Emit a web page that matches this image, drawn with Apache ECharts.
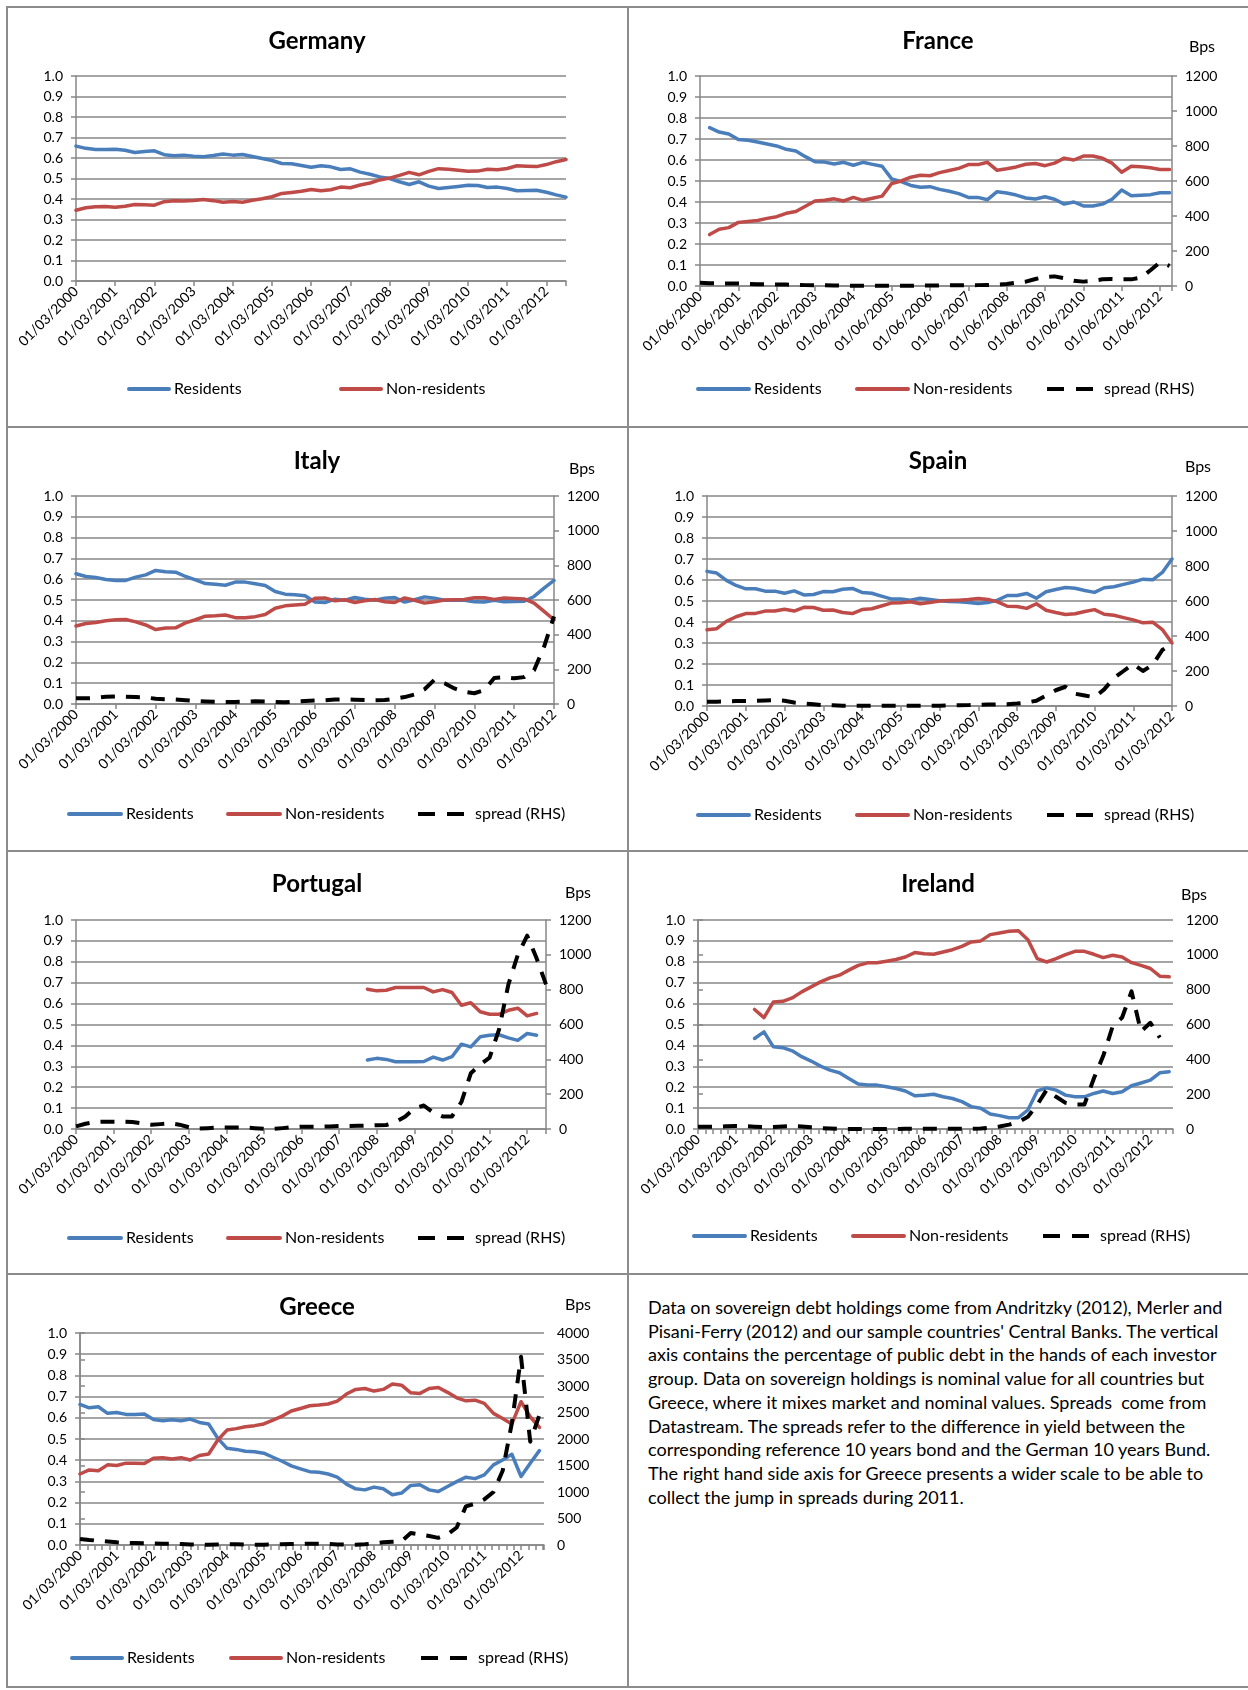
<!DOCTYPE html>
<html><head><meta charset="utf-8">
<script src="https://cdn.jsdelivr.net/npm/echarts@6/dist/echarts.min.js"></script>
<style>
body{margin:0;background:#fff;width:1248px;height:1690px;position:relative;overflow:hidden;font-family:Lato,"Open Sans",sans-serif;color:#000}
.ch{position:absolute}
.hl{position:absolute;background:#8c8c8c;height:2px}
.vl{position:absolute;background:#8c8c8c;width:2px}
.bps{position:absolute;font-size:16px;transform:translate(-50%,-50%);white-space:nowrap}
#note{position:absolute;left:648px;top:1296px;font-size:18px;line-height:23.7px;white-space:nowrap}
</style></head><body>
<div class="hl" style="left:6px;top:6px;width:1242px"></div>
<div class="hl" style="left:6px;top:426px;width:1242px"></div>
<div class="hl" style="left:6px;top:850px;width:1242px"></div>
<div class="hl" style="left:6px;top:1273px;width:1242px"></div>
<div class="hl" style="left:6px;top:1686px;width:1242px"></div>
<div class="vl" style="left:6px;top:6px;height:1682px"></div>
<div class="vl" style="left:627px;top:6px;height:1682px"></div>
<div id="note">Data on sovereign debt holdings come from Andritzky (2012), Merler and<br>Pisani-Ferry (2012) and our sample countries' Central Banks. The vertical<br>axis contains the percentage of public debt in the hands of each investor<br>group. Data on sovereign holdings is nominal value for all countries but<br>Greece, where it mixes market and nominal values. Spreads&nbsp; come from<br>Datastream. The spreads refer to the difference in yield between the<br>corresponding reference 10 years bond and the German 10 years Bund.<br>The right hand side axis for Greece presents a wider scale to be able to<br>collect the jump in spreads during 2011.</div>
<script>
const FONT='Lato, "Open Sans", sans-serif';
const BLUE='#4A7EBB', RED='#BE4B48', SPREADC='#000000', GRIDC='#878787';

function quarterCats(month, year, n){
  const out=[];
  for(let i=0;i<n;i++){
    const m=month+3*i-1;
    const y=year+Math.floor(m/12);
    const mm=(m%12)+1;
    out.push('01/'+(mm<10?'0':'')+mm+'/'+y);
  }
  return out;
}

// ---------- Germany (quarterly from 01/03/2000) ----------
const deCats=quarterCats(3,2000,51);
const deRes=[0.658,0.647,0.642,0.642,0.643,0.638,0.627,0.632,0.635,0.616,0.611,0.614,0.609,0.606,0.612,0.620,0.614,0.617,0.607,0.598,0.588,0.573,0.572,0.563,0.555,0.562,0.557,0.544,0.547,0.531,0.521,0.508,0.500,0.484,0.471,0.484,0.463,0.451,0.456,0.461,0.467,0.466,0.456,0.458,0.451,0.440,0.441,0.443,0.433,0.420,0.409];
const deNon=[0.345,0.357,0.362,0.363,0.360,0.365,0.373,0.372,0.370,0.387,0.392,0.390,0.393,0.398,0.392,0.384,0.388,0.384,0.394,0.401,0.411,0.427,0.432,0.438,0.446,0.440,0.445,0.458,0.455,0.468,0.478,0.493,0.502,0.515,0.530,0.518,0.535,0.548,0.545,0.540,0.535,0.536,0.545,0.543,0.549,0.562,0.560,0.558,0.568,0.582,0.593];

// ---------- France (quarterly from 01/06/2000) ----------
const frCats=quarterCats(6,2000,50);
const frStart=1;
const frRes=[0.754,0.733,0.724,0.698,0.694,0.686,0.676,0.667,0.651,0.643,0.616,0.592,0.590,0.581,0.589,0.575,0.589,0.579,0.570,0.510,0.497,0.479,0.470,0.473,0.460,0.451,0.440,0.422,0.422,0.411,0.449,0.443,0.433,0.419,0.414,0.425,0.413,0.390,0.400,0.381,0.381,0.390,0.413,0.457,0.430,0.432,0.435,0.444,0.444];
const frNon=[0.245,0.270,0.278,0.303,0.307,0.312,0.322,0.330,0.346,0.355,0.380,0.405,0.408,0.415,0.405,0.422,0.408,0.418,0.428,0.488,0.500,0.518,0.527,0.525,0.540,0.550,0.560,0.578,0.578,0.589,0.551,0.558,0.567,0.580,0.583,0.573,0.585,0.609,0.600,0.619,0.619,0.608,0.585,0.542,0.570,0.568,0.563,0.555,0.555];
const frSpread=[18,16,15,15,14,12,10,10,9,8,7,5,4,4,3,2,1,2,2,2,1,1,1,2,3,3,4,4,4,5,6,8,12,18,25,40,52,55,45,30,25,30,38,40,38,38,48,90,135,115];

// ---------- Italy (quarterly from 01/03/2000) ----------
const itCats=quarterCats(3,2000,49);
const itRes=[0.626,0.613,0.608,0.599,0.594,0.594,0.610,0.621,0.642,0.636,0.634,0.613,0.597,0.579,0.576,0.571,0.586,0.586,0.578,0.570,0.541,0.528,0.525,0.520,0.490,0.488,0.504,0.499,0.512,0.504,0.499,0.509,0.512,0.490,0.501,0.515,0.509,0.499,0.499,0.499,0.491,0.490,0.499,0.491,0.493,0.494,0.517,0.557,0.594];
const itNon=[0.375,0.387,0.392,0.400,0.405,0.406,0.395,0.380,0.358,0.365,0.366,0.390,0.405,0.422,0.424,0.428,0.415,0.415,0.420,0.430,0.460,0.472,0.476,0.480,0.508,0.510,0.496,0.501,0.488,0.496,0.502,0.492,0.488,0.510,0.499,0.485,0.492,0.500,0.501,0.502,0.511,0.511,0.503,0.510,0.507,0.505,0.485,0.445,0.405];
const itSpread=[33,33,35,42,44,42,40,38,30,27,26,22,18,15,13,12,12,13,16,15,12,10,14,18,21,22,26,27,25,23,22,23,30,40,55,85,140,120,90,70,62,80,150,155,148,155,195,330,505];

// ---------- Spain (quarterly from 01/03/2000) ----------
const esCats=quarterCats(3,2000,49);
const esRes=[0.641,0.633,0.598,0.574,0.558,0.558,0.547,0.547,0.537,0.548,0.529,0.531,0.545,0.544,0.556,0.560,0.541,0.537,0.523,0.510,0.509,0.504,0.513,0.507,0.501,0.498,0.496,0.493,0.488,0.493,0.504,0.526,0.526,0.536,0.513,0.544,0.555,0.564,0.561,0.550,0.541,0.563,0.568,0.579,0.590,0.604,0.601,0.636,0.700];
const esNon=[0.363,0.368,0.403,0.425,0.440,0.441,0.452,0.452,0.461,0.452,0.470,0.469,0.456,0.457,0.445,0.440,0.459,0.463,0.476,0.490,0.492,0.496,0.487,0.493,0.500,0.502,0.504,0.507,0.512,0.507,0.496,0.475,0.474,0.465,0.487,0.456,0.445,0.436,0.439,0.450,0.459,0.437,0.432,0.421,0.410,0.396,0.399,0.364,0.300];
const esSpread=[25,25,26,28,29,30,32,34,30,20,15,10,5,4,2,1,1,1,1,1,1,1,1,2,2,3,4,5,6,8,9,10,14,20,30,60,90,110,70,60,50,95,160,200,240,200,235,320,355];

// ---------- Portugal (quarterly from 01/03/2000) ----------
const ptCats=quarterCats(3,2000,51);
const ptStart=31;
const ptRes=[0.330,0.338,0.333,0.322,0.322,0.322,0.323,0.344,0.330,0.346,0.406,0.393,0.441,0.449,0.451,0.436,0.424,0.457,0.449];
const ptNon=[0.669,0.661,0.664,0.677,0.677,0.677,0.677,0.656,0.667,0.653,0.592,0.604,0.561,0.549,0.549,0.568,0.578,0.541,0.553];
const ptSpread=[15,30,40,42,42,42,40,32,25,28,32,25,10,3,5,8,8,8,8,5,1,1,5,10,13,13,13,15,17,17,18,20,22,23,40,70,118,135,95,72,72,155,320,370,410,570,830,1000,1110,980,830];

// ---------- Ireland (quarterly from 01/03/2000) ----------
const ieCats=quarterCats(3,2000,51);
const ieStart=6;
const ieRes=[0.433,0.465,0.393,0.389,0.374,0.346,0.325,0.301,0.282,0.269,0.242,0.215,0.210,0.210,0.202,0.194,0.182,0.159,0.162,0.166,0.154,0.146,0.131,0.107,0.099,0.072,0.064,0.054,0.054,0.091,0.182,0.197,0.186,0.162,0.154,0.154,0.170,0.182,0.170,0.178,0.207,0.220,0.234,0.269,0.274];
const ieNon=[0.572,0.533,0.608,0.611,0.627,0.656,0.680,0.704,0.723,0.736,0.760,0.783,0.795,0.795,0.803,0.811,0.823,0.844,0.838,0.836,0.847,0.858,0.874,0.895,0.900,0.930,0.938,0.946,0.949,0.906,0.815,0.799,0.815,0.834,0.850,0.850,0.836,0.820,0.831,0.823,0.796,0.783,0.768,0.731,0.728];
const ieSpread=[13,13,13,16,17,16,13,11,12,15,17,15,10,5,3,1,0,0,0,0,0,0,1,1,1,1,1,1,1,1,3,8,14,25,40,70,140,225,185,150,140,140,290,420,590,640,790,560,610,525];

// ---------- Greece (quarterly from 01/03/2000) ----------
const grCats=quarterCats(3,2000,51);
const grRes=[0.663,0.647,0.652,0.621,0.625,0.616,0.616,0.618,0.592,0.586,0.591,0.586,0.594,0.578,0.571,0.503,0.456,0.451,0.442,0.440,0.433,0.414,0.395,0.373,0.359,0.346,0.343,0.335,0.320,0.287,0.265,0.260,0.273,0.265,0.237,0.245,0.281,0.284,0.260,0.252,0.276,0.299,0.320,0.313,0.331,0.378,0.401,0.428,0.323,0.386,0.445];
const grNon=[0.335,0.354,0.350,0.378,0.375,0.386,0.386,0.384,0.409,0.412,0.406,0.412,0.401,0.422,0.429,0.495,0.542,0.549,0.558,0.563,0.571,0.589,0.608,0.632,0.644,0.657,0.660,0.665,0.679,0.712,0.734,0.738,0.726,0.734,0.759,0.754,0.718,0.715,0.738,0.743,0.720,0.694,0.680,0.683,0.668,0.621,0.597,0.571,0.676,0.605,0.555];
const grSpread=[115,95,80,65,50,40,38,35,30,25,25,20,10,5,3,8,13,12,10,7,6,8,15,19,22,25,25,20,10,6,6,15,30,50,60,70,225,200,170,135,200,330,730,780,860,1000,1400,2300,3550,1950,2450];

const leftTicks=['0.0','0.1','0.2','0.3','0.4','0.5','0.6','0.7','0.8','0.9','1.0'];

function pairs(arr,start){return arr.map((v,k)=>[start+k,v]);}

const panels=[
 {title:'Germany',ox:7,oy:7,w:620,h:418,L:76,R:566,T:76,B:281,ty:39,cats:deCats,xMax:50,
  res:deRes,resStart:0,non:deNon,nonStart:0,
  leg:[[127,388,40],[339,388,40]]},
 {title:'France',ox:629,oy:7,w:618,h:418,L:700,R:1172,T:76,B:286,ty:39,cats:frCats,xMax:49.25,
  res:frRes,resStart:frStart,non:frNon,nonStart:frStart,spread:frSpread,rMax:1200,rInt:200,bps:[1202,45],
  leg:[[696,388,51],[855,388,51],[1045,388,46]]},
 {title:'Italy',ox:7,oy:427,w:620,h:422,L:76,R:554,T:496,B:704,ty:459,cats:itCats,xMax:48,
  res:itRes,resStart:0,non:itNon,nonStart:0,spread:itSpread,rMax:1200,rInt:200,bps:[582,467],
  leg:[[67,813,52],[226,813,52],[416,813,46]]},
 {title:'Spain',ox:629,oy:427,w:618,h:422,L:707,R:1172,T:496,B:706,ty:459,cats:esCats,xMax:48,
  res:esRes,resStart:0,non:esNon,nonStart:0,spread:esSpread,rMax:1200,rInt:200,bps:[1198,465],
  leg:[[696,814,51],[855,814,51],[1045,814,46]]},
 {title:'Portugal',ox:7,oy:851,w:620,h:421,L:76,R:546,T:920,B:1129,ty:882,cats:ptCats,xMax:50,
  res:ptRes,resStart:ptStart,non:ptNon,nonStart:ptStart,spread:ptSpread,rMax:1200,rInt:200,bps:[578,891],
  leg:[[67,1237,52],[226,1237,52],[416,1237,46]]},
 {title:'Ireland',ox:629,oy:851,w:618,h:421,L:698,R:1173,T:920,B:1129,ty:882,cats:ieCats,xMax:50.4,minor:true,
  res:ieRes,resStart:ieStart,non:ieNon,nonStart:ieStart,spread:ieSpread,rMax:1200,rInt:200,bps:[1194,893],
  leg:[[692,1235,51],[851,1235,51],[1041,1235,46]]},
 {title:'Greece',ox:7,oy:1274,w:620,h:412,L:80,R:544,T:1333,B:1545,ty:1305,cats:grCats,xMax:50.5,minor:true,
  res:grRes,resStart:0,non:grNon,nonStart:0,spread:grSpread,rMax:4000,rInt:500,bps:[578,1303],
  leg:[[70,1657,50],[229,1657,50],[419,1657,46]]}
];

const axisLineStyle={color:GRIDC,width:1.5};

function build(p){
  const div=document.createElement('div');
  div.className='ch';
  div.style.left=p.ox+'px';div.style.top=p.oy+'px';div.style.width=p.w+'px';div.style.height=p.h+'px';
  document.body.appendChild(div);
  if(p.bps){
    const b=document.createElement('div');b.className='bps';b.textContent='Bps';
    b.style.left=p.bps[0]+'px';b.style.top=p.bps[1]+'px';document.body.appendChild(b);
  }
  const chart=echarts.init(div,null,{renderer:'canvas'});
  const cats=p.cats;
  const xAxis=[{
    type:'value',min:0,max:p.xMax,interval:4,position:'bottom',
    axisLine:{show:true,onZero:false,lineStyle:axisLineStyle},
    axisTick:{show:!p.minor,length:5,lineStyle:axisLineStyle},
    splitLine:{show:false},
    axisLabel:{rotate:45,margin:8,fontSize:14,color:'#000',fontFamily:FONT,
      formatter:function(v){const r=Math.round(v);return (Math.abs(v-r)<1e-6&&r%4===0&&cats[r])?cats[r]:'';}}
  }];
  if(p.minor){
    xAxis.push({type:'value',min:0,max:p.xMax,interval:0.8,position:'bottom',
      axisLine:{show:false,onZero:false},axisTick:{show:true,length:5,lineStyle:axisLineStyle},
      axisLabel:{show:false},splitLine:{show:false}});
  }
  const yAxis=[{
    type:'value',min:0,max:1,interval:0.1,position:'left',
    axisLine:{show:true,lineStyle:axisLineStyle},
    axisTick:{show:true,length:5,lineStyle:axisLineStyle},
    splitLine:{show:true,lineStyle:{color:GRIDC,width:1.5}},
    axisLabel:{margin:13,fontSize:14,color:'#000',fontFamily:FONT,formatter:function(v){return leftTicks[Math.round(v*10)];}}
  }];
  if(p.spread){
    yAxis.push({type:'value',min:0,max:p.rMax,interval:p.rInt,position:'right',
      axisLine:{show:true,lineStyle:axisLineStyle},
      axisTick:{show:true,length:5,lineStyle:axisLineStyle},
      splitLine:{show:false},
      axisLabel:{margin:13,fontSize:14,color:'#000',fontFamily:FONT,formatter:function(v){return String(Math.round(v));}}});
  }
  const series=[
    {name:'Residents',type:'line',xAxisIndex:0,yAxisIndex:0,data:pairs(p.res,p.resStart),symbol:'none',
     lineStyle:{color:BLUE,width:3.5,cap:'round',join:'round'},itemStyle:{color:BLUE}},
    {name:'Non-residents',type:'line',xAxisIndex:0,yAxisIndex:0,data:pairs(p.non,p.nonStart),symbol:'none',
     lineStyle:{color:RED,width:3.5,cap:'round',join:'round'},itemStyle:{color:RED}}
  ];
  if(p.spread){
    series.push({name:'spread (RHS)',type:'line',xAxisIndex:0,yAxisIndex:1,data:pairs(p.spread,0),symbol:'none',
     lineStyle:{color:SPREADC,width:4,type:[14,11],join:'round'},itemStyle:{color:SPREADC}});
  }
  const names=['Residents','Non-residents','spread (RHS)'];
  const legend=p.leg.map(function(l,k){
    return {data:[names[k]],left:l[0]-p.ox,top:l[1]-p.oy-7,itemWidth:l[2],itemHeight:14,padding:0,
      textStyle:{fontSize:16,color:'#000',fontFamily:FONT,padding:k===2?[0,0,0,6]:0},
      itemStyle:{opacity:0},
      lineStyle:k===2?{width:4,type:[17,12]}:{width:4},
      selectedMode:false};
  });
  chart.setOption({
    animation:false,
    textStyle:{fontFamily:FONT},
    title:{text:p.title,left:'center',top:p.ty-p.oy-15,textStyle:{fontSize:24,fontWeight:'bold',color:'#000',fontFamily:FONT}},
    legend:legend,
    grid:{left:p.L-p.ox,top:p.T-p.oy,width:p.R-p.L,height:p.B-p.T,containLabel:false,outerBoundsMode:'none'},
    xAxis:xAxis,yAxis:yAxis,series:series
  });
}
panels.forEach(build);
</script>
</body></html>
